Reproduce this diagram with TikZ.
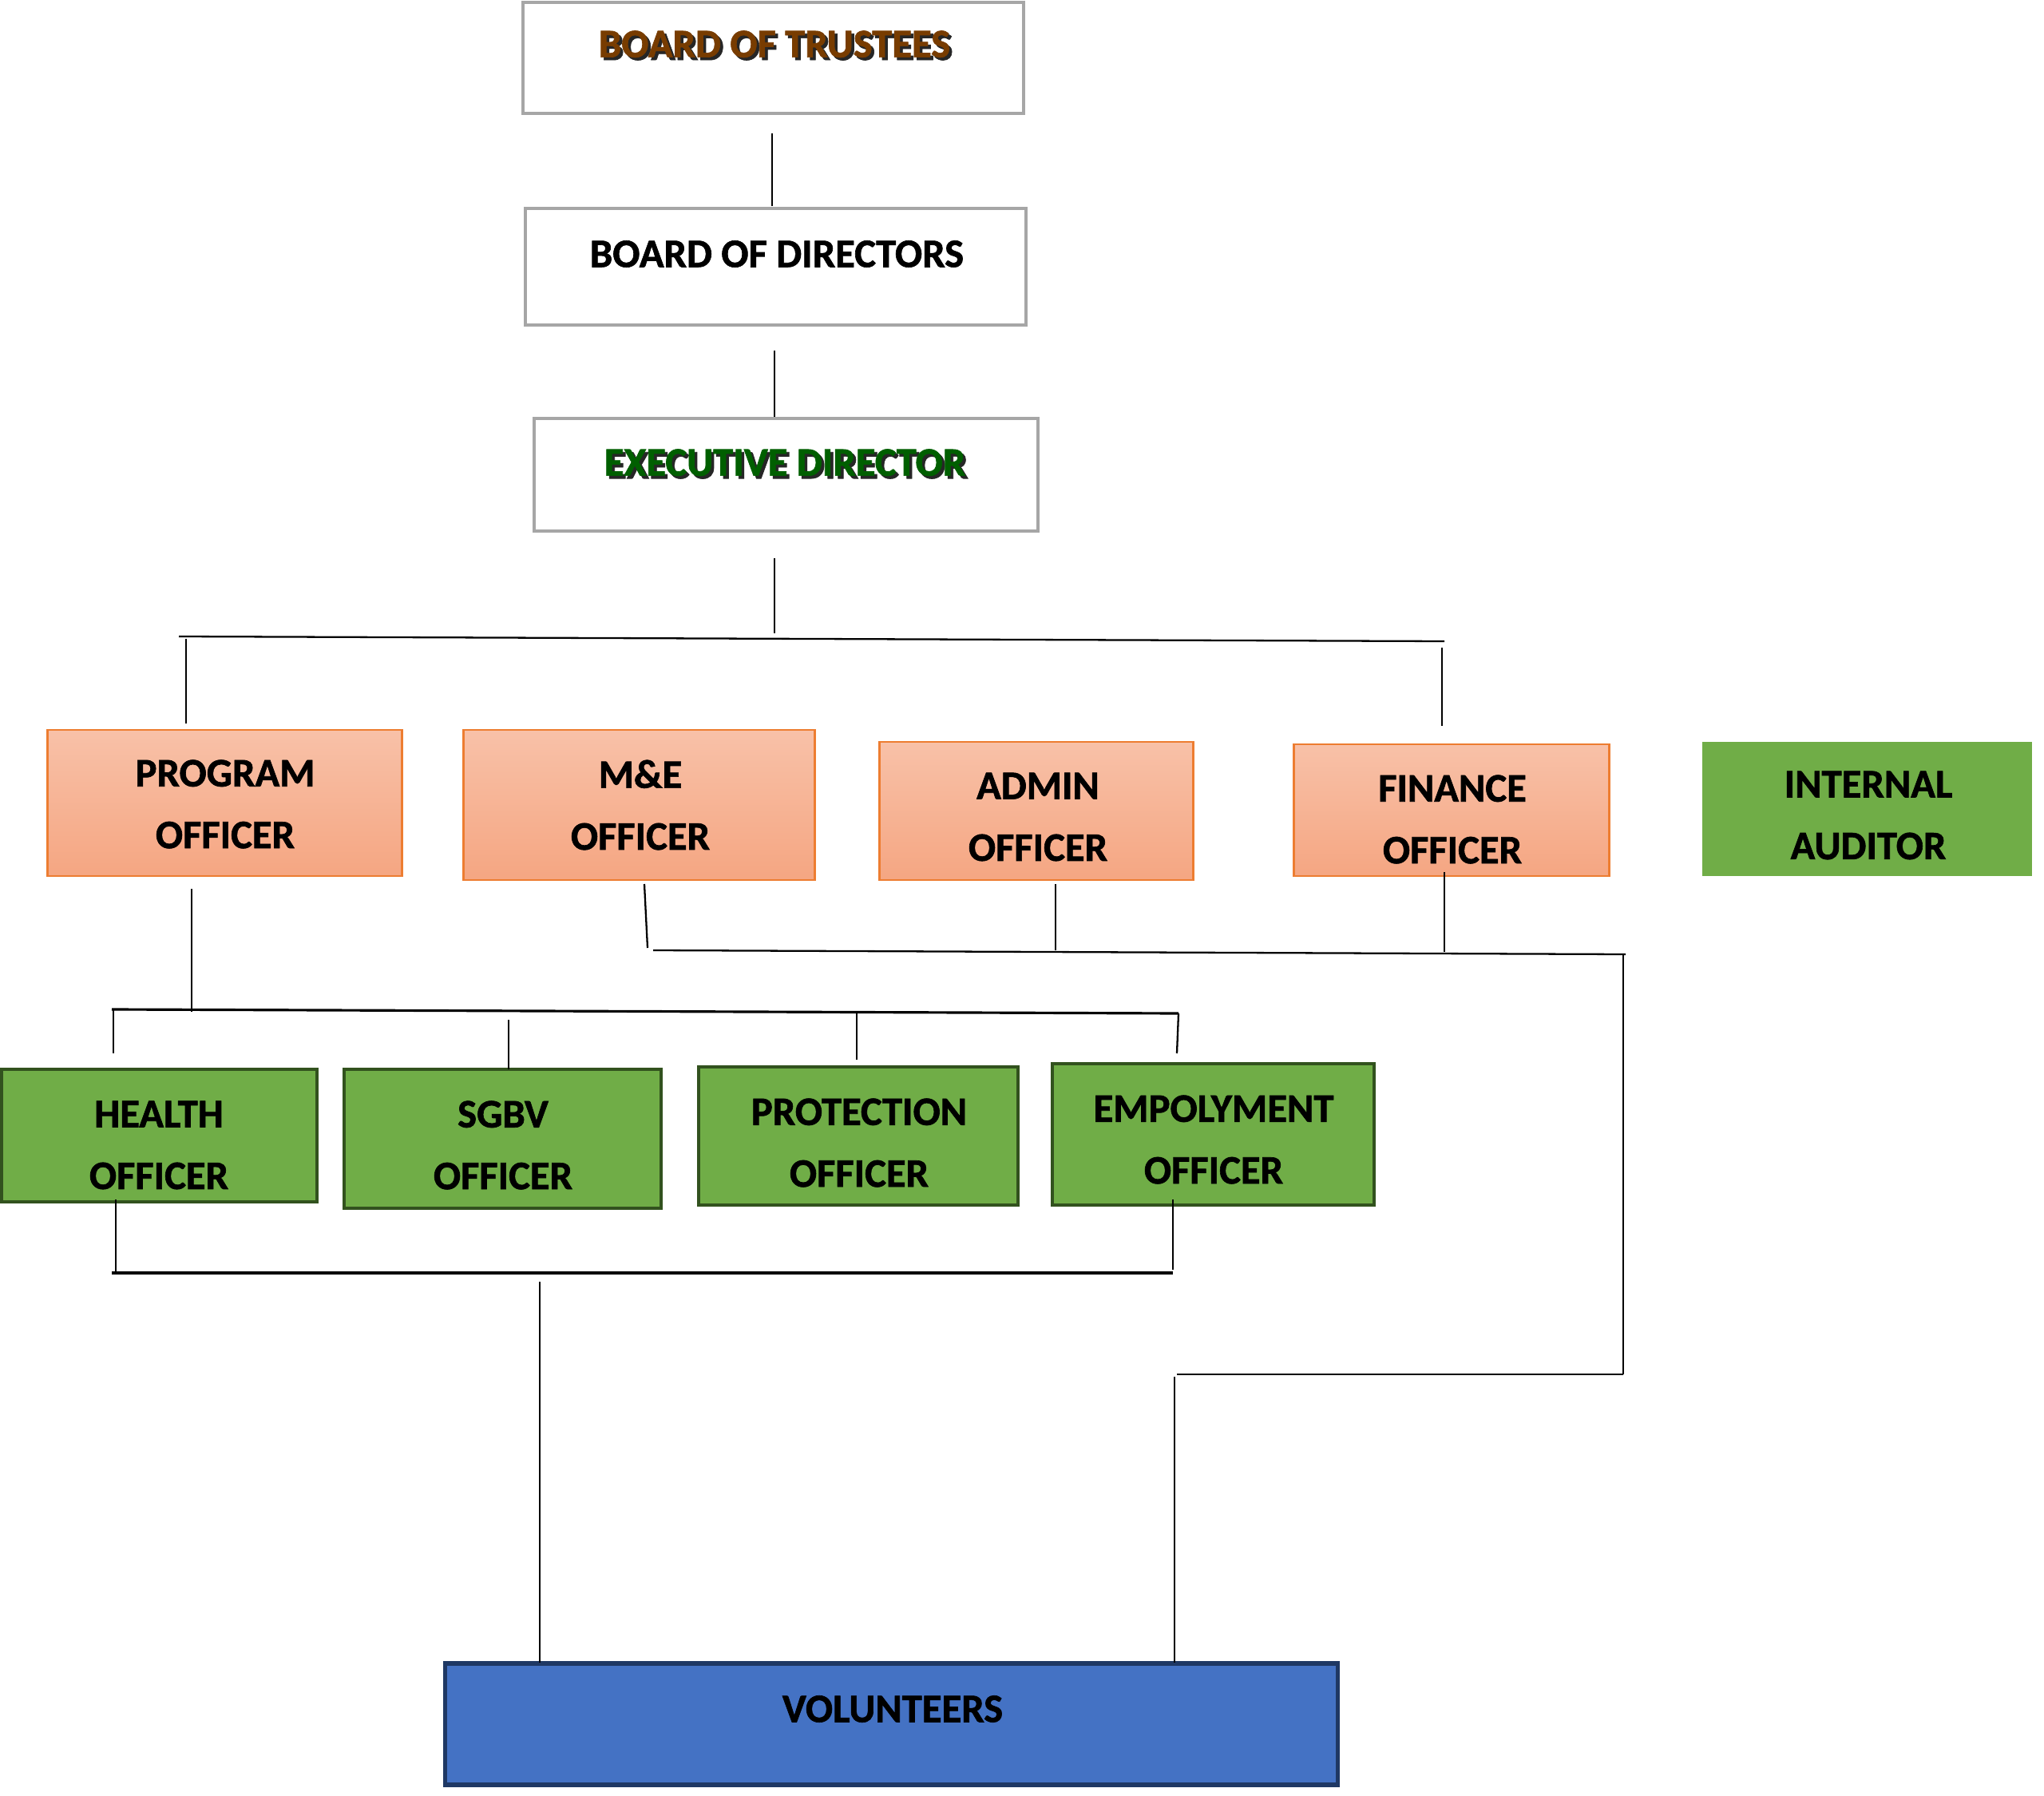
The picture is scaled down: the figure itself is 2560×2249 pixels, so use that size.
\documentclass[tikz,border=0pt]{standalone}
\usepackage{fontspec}
\setmainfont{Carlito}[BoldFeatures={FakeBold=1.3}]
\usetikzlibrary{calc}
\definecolor{orgB}{RGB}{237,125,49}
\definecolor{orgT}{RGB}{248,193,168}
\definecolor{orgBot}{RGB}{245,166,130}
\definecolor{grF}{RGB}{112,173,71}
\definecolor{grB}{RGB}{50,82,30}
\definecolor{grayB}{RGB}{166,166,166}
\definecolor{bluF}{RGB}{68,114,196}
\definecolor{bluB}{RGB}{31,56,100}
\definecolor{brownT}{RGB}{120,60,0}
\definecolor{greenT}{RGB}{0,95,0}
\newcommand\shadowed[2]{\leavevmode\rlap{\kern1pt\raisebox{-1pt}{\color{black!85}#2}}{\color{#1}#2}}
\begin{document}
\begin{tikzpicture}[x=0.01cm,y=-0.01cm,
  font=\bfseries\fontsize{14.4pt}{22pt}\selectfont,
  box/.style={rectangle, inner sep=0pt, outer sep=0pt},
  topbox/.style={box, draw=grayB, line width=1pt, fill=white},
  orgbox/.style={box, draw=orgB, line width=0.8pt, top color=orgT, bottom color=orgBot},
  grbox/.style={box, draw=grB, line width=1.1pt, fill=grF},
  iabox/.style={box, fill=grF},
  volbox/.style={box, draw=bluB, line width=1.5pt, fill=bluF},
  lbl/.style={align=center, inner sep=0pt},
  conn/.style={line width=0.65pt, black},
  connb/.style={line width=0.9pt, black}]
\useasboundingbox (0,0) rectangle (2560,2249);

% boxes
\node[topbox, minimum width=6.27cm, minimum height=1.39cm] (bot) at (968.5,72.5) {};
\node[topbox, minimum width=6.27cm, minimum height=1.46cm] (bod) at (971.5,334) {};
\node[topbox, minimum width=6.31cm, minimum height=1.41cm] (ed) at (984.5,594.5) {};

\node[orgbox, minimum width=4.43cm, minimum height=1.83cm] (prog) at (281.5,1005.5) {};
\node[orgbox, minimum width=4.39cm, minimum height=1.88cm] (me) at (800.5,1008) {};
\node[orgbox, minimum width=3.92cm, minimum height=1.73cm] (admin) at (1298,1015.5) {};
\node[orgbox, minimum width=3.94cm, minimum height=1.65cm] (fin) at (1818,1014.5) {};
\node[iabox, minimum width=4.13cm, minimum height=1.68cm] (ia) at (2338.5,1013) {};

\node[grbox, minimum width=3.95cm, minimum height=1.66cm] (health) at (199.5,1422) {};
\node[grbox, minimum width=3.97cm, minimum height=1.74cm] (sgbv) at (629.5,1426) {};
\node[grbox, minimum width=4.00cm, minimum height=1.73cm] (prot) at (1075,1422.5) {};
\node[grbox, minimum width=4.03cm, minimum height=1.77cm] (emp) at (1519.5,1420.5) {};

\node[volbox, minimum width=11.17cm, minimum height=1.52cm] (vol) at (1116.5,2159) {};

% texts
\node[lbl] (bot-t) at (970,57) {\shadowed{brownT}{BOARD OF TRUSTEES}};
\node[lbl] (bod-t) at (973,318) {BOARD OF DIRECTORS};
\node[lbl] (ed-t) at (983,581) {\shadowed{greenT}{EXECUTIVE DIRECTOR}};
\node[lbl] (prog-t) at (282,1007) {PROGRAM\\OFFICER};
\node[lbl] (me-t) at (802,1008) {M\&E\\OFFICER};
\node[lbl] (admin-t) at (1300,1023) {ADMIN\\OFFICER};
\node[lbl] (fin-t) at (1819,1026) {FINANCE\\OFFICER};
\node[lbl] (ia-t) at (2340,1021) {INTERNAL\\AUDITOR};
\node[lbl] (health-t) at (199,1434) {HEALTH\\OFFICER};
\node[lbl] (sgbv-t) at (630,1434) {SGBV\\OFFICER};
\node[lbl] (prot-t) at (1076,1431) {PROTECTION\\OFFICER};
\node[lbl] (emp-t) at (1520,1427) {EMPOLYMENT\\OFFICER};
\node[lbl] (vol-t) at (1118,2140) {VOLUNTEERS};

% connector points
\coordinate (c1a) at (967,167);  \coordinate (c1b) at (967,258);
\coordinate (c2a) at (970,439);  \coordinate (c2b) at (970,522);
\coordinate (c3a) at (970,699);  \coordinate (c3b) at (970,793);
\coordinate (h1l) at (224,797);  \coordinate (h1r) at (1809,803);
\coordinate (d1a) at (233,800);  \coordinate (d1b) at (233,906);
\coordinate (d2a) at (1806,811); \coordinate (d2b) at (1806,909);
\coordinate (m1a) at (807,1107); \coordinate (m1b) at (811,1187);
\coordinate (h2l) at (818,1190); \coordinate (h2r) at (2036,1195);
\coordinate (a1a) at (1322,1107);\coordinate (a1b) at (1322,1190);
\coordinate (f1a) at (1809,1092);\coordinate (f1b) at (1809,1192);
\coordinate (r1a) at (2033,1195);\coordinate (r1b) at (2033,1721);
\coordinate (h3l) at (1474,1721);
\coordinate (v1a) at (1471,1724);\coordinate (v1b) at (1471,2082);
\coordinate (p1a) at (240,1113); \coordinate (p1b) at (240,1267);
\coordinate (h4l) at (140,1264); \coordinate (h4r) at (1476,1269);
\coordinate (g1a) at (142,1264); \coordinate (g1b) at (142,1319);
\coordinate (g2a) at (637,1277); \coordinate (g2b) at (637,1339);
\coordinate (g3a) at (1073,1269);\coordinate (g3b) at (1073,1327);
\coordinate (g4a) at (1476,1269);\coordinate (g4b) at (1474,1319);
\coordinate (e1a) at (145,1502); \coordinate (e1b) at (145,1594);
\coordinate (e2a) at (1469,1502);\coordinate (e2b) at (1469,1590);
\coordinate (h5l) at (140,1594); \coordinate (h5r) at (1469,1594);
\coordinate (s1a) at (676,1605); \coordinate (s1b) at (676,2082);

% connectors
\draw[conn] (c1a) -- (c1b);
\draw[conn] (c2a) -- (c2b);
\draw[conn] (c3a) -- (c3b);
\draw[conn] (h1l) -- (h1r);
\draw[conn] (d1a) -- (d1b);
\draw[conn] (d2a) -- (d2b);
\draw[conn] (m1a) -- (m1b);
\draw[conn] (h2l) -- (h2r);
\draw[conn] (a1a) -- (a1b);
\draw[conn] (f1a) -- (f1b);
\draw[conn] (r1a) -- (r1b);
\draw[conn] (h3l) -- (r1b);
\draw[conn] (v1a) -- (v1b);
\draw[conn] (p1a) -- (p1b);
\draw[connb] (h4l) -- (h4r);
\draw[conn] (g1a) -- (g1b);
\draw[conn] (g2a) -- (g2b);
\draw[conn] (g3a) -- (g3b);
\draw[conn] (g4a) -- (g4b);
\draw[conn] (e1a) -- (e1b);
\draw[conn] (e2a) -- (e2b);
\draw[connb] (h5l) -- (h5r);
\draw[conn] (s1a) -- (s1b);
\end{tikzpicture}
\end{document}
